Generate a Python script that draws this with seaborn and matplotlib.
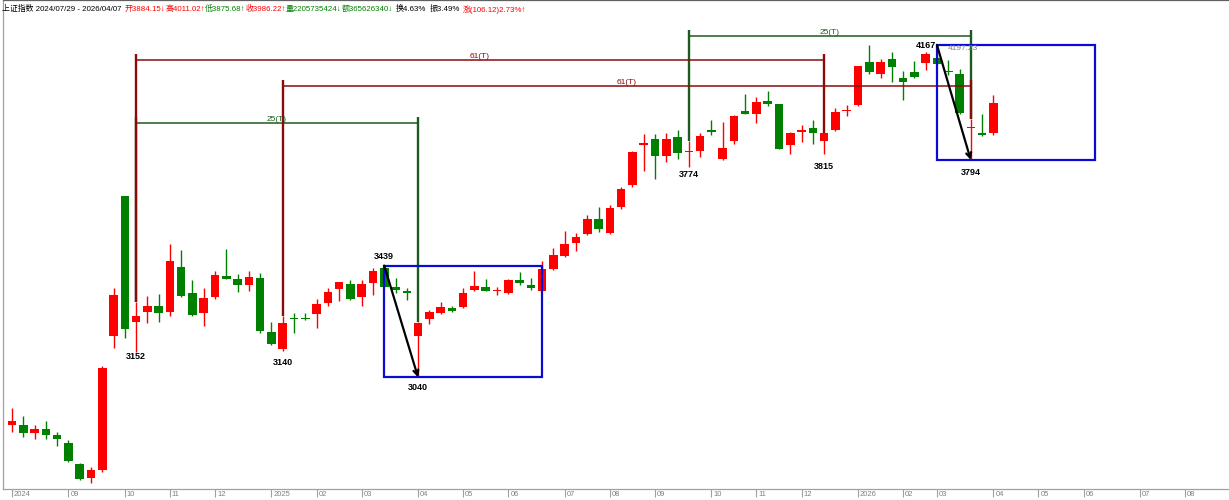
import matplotlib
matplotlib.use('Agg')
import matplotlib.pyplot as plt
import matplotlib.transforms as mtransforms
from matplotlib.patches import Rectangle
import numpy as np
import pandas as pd
import seaborn as sns

# weekly bars, 2024/07/29 - 2026/04/07
opens = [2890, 2890, 2863, 2876, 2856, 2829, 2757, 2710, 2737, 3194,
         3669, 3240, 3274, 3296, 3274, 3427, 3340, 3272, 3325, 3397,
         3385, 3366, 3391, 3206, 3148, 3254, 3253, 3267, 3306, 3352,
         3368, 3326, 3372, 3425, 3360, 3341, 3193, 3249, 3272, 3289,
         3292, 3349, 3360, 3345, 3338, 3383, 3366, 3347, 3419, 3465,
         3508, 3538, 3589, 3542, 3630, 3706, 3842, 3861, 3805, 3868,
         3817, 3822, 3889, 3793, 3857, 3959, 3947, 3992, 3980, 3842,
         3887, 3899, 3857, 3893, 3957, 3978, 4123, 4082, 4133, 4069,
         4091, 4120, 4139, 4090, 4082, 3899, 3878, 3884.15]
highs = [2948, 2921, 2890, 2904, 2866, 2839, 2760, 2747, 3091, 3355,
         3670, 3309, 3329, 3335, 3505, 3485, 3383, 3355, 3415, 3488,
         3403, 3415, 3408, 3241, 3261, 3272, 3270, 3317, 3357, 3376,
         3383, 3383, 3423, 3432, 3389, 3357, 3241, 3281, 3309, 3295,
         3355, 3414, 3385, 3360, 3386, 3409, 3389, 3449, 3491, 3550,
         3544, 3604, 3630, 3638, 3700, 3821, 3879, 3879, 3884, 3893,
         3857, 3882, 3927, 3921, 3943, 4015, 4004, 4026, 3982, 3887,
         3910, 3927, 3883, 3967, 3978, 4112, 4182, 4133, 4159, 4094,
         4129, 4159, 4182, 4131, 4099, 3929, 3946, 4011.02]
lows = [2866, 2849, 2842, 2842, 2819, 2764, 2703, 2693, 2730, 3153,
        3187, 3139, 3238, 3241, 3262, 3325, 3262, 3227, 3318, 3385,
        3343, 3346, 3204, 3163, 3141, 3202, 3247, 3219, 3296, 3312,
        3316, 3296, 3332, 3358, 3340, 3315, 3052, 3232, 3267, 3275,
        3287, 3347, 3345, 3332, 3336, 3366, 3349, 3345, 3417, 3462,
        3482, 3537, 3547, 3540, 3623, 3700, 3755, 3725, 3785, 3794,
        3768, 3802, 3876, 3792, 3845, 3946, 3916, 3975, 3827, 3811,
        3851, 3845, 3811, 3891, 3941, 3976, 4083, 4071, 4057, 3995,
        4071, 4097, 4116, 4080, 3948, 3791, 3872, 3875.68]
closes = [2904, 2863, 2876, 2856, 2842, 2768, 2706, 2737, 3084, 3332,
          3216, 3261, 3296, 3270, 3448, 3328, 3265, 3322, 3399, 3387,
          3365, 3394, 3210, 3166, 3238, 3250, 3250, 3300, 3341, 3375,
          3317, 3368, 3415, 3360, 3349, 3339, 3236, 3273, 3292, 3278,
          3338, 3364, 3347, 3347, 3383, 3374, 3357, 3419, 3468, 3505,
          3530, 3589, 3556, 3629, 3691, 3819, 3850, 3806, 3861, 3814,
          3820, 3874, 3887, 3831, 3942, 3947, 3987, 3981, 3828, 3882,
          3893, 3882, 3882, 3953, 3959, 4111, 4091, 4125, 4108, 4057,
          4072, 4151, 4117, 4089, 3950, 3901, 3876, 3986.22]

# month ticks (bar index) and labels, incl. empty future weeks
tick_pos = [0, 5, 10, 14, 18, 23, 27, 31, 36, 40, 44, 49, 53, 57, 62, 66,
            70, 75, 79, 82, 87, 91, 95, 100, 104]
tick_labels = ['2024', '09', '10', '11', '12', '2025', '02', '03', '04', '05',
               '06', '07', '08', '09', '10', '11', '12', '2026', '02', '03',
               '04', '05', '06', '07', '08']

# cycle count lines: start bar, end bar, level, colour, label
cycle_start = [11, 24, 11, 60]
cycle_end = [72, 85, 36, 85]
cycle_level = [4131, 4043, 3917, 4212]
cycle_text = ['61(T)', '61(T)', '25(T)', '25(T)']
cycle_kind = ['red', 'red', 'green', 'green']

# swing arrows (high bar -> low bar) and boxes 14 bars wide
swing_from = [33, 82]
swing_to = [36, 85]
box_bars = 14

# point labels: bar, text, at low/high, pixel offset
mark_bar = [11, 24, 36, 60, 72, 85, 33]
mark_text = ['3152', '3140', '3040', '3774', '3815', '3794', '3439']
mark_side = ['low', 'low', 'low', 'low', 'low', 'low', 'high']
mark_gap = [0, 7, 6, 3, 7.5, 8, 5]

# header line
head_text = ['上证指数 2024/07/29 - 2026/04/07', '开3884.15↓', '高4011.02↑', '低3875.68↑',
             '收3986.22↑', '量2205735424↓', '额365626340↓', '换4.63%', '振3.49%',
             '涨(106.12)2.73%↑']
head_col = ['black', 'red', 'red', 'green', 'red', 'green', 'green', 'black', 'black', 'red']
head_gap = [0, 3, 0, 0, 0, 0, 0, 3, 3, 3]

df = pd.DataFrame({'open': opens, 'high': highs, 'low': lows, 'close': closes})
df['idx'] = np.arange(len(df))
df['up'] = df['close'] >= df['open']

RED = '#ff0000'
GREEN = '#008000'
MAROON = '#8b0a0a'
DKGREEN = '#1d5a1d'
BLUE = '#0a0ad2'

sns.set_theme(style='white')
plt.rcParams['font.family'] = ['Liberation Sans', 'Noto Sans CJK SC', 'DejaVu Sans']
plt.rcParams['axes.unicode_minus'] = False

fig = plt.figure(figsize=(12.29, 5.0), dpi=100)
ax = fig.add_axes([3 / 1229, 11 / 500, 1226 / 1229, 489 / 500])
ax.set_xlim((3 - 12) / 11.28, (1229 - 12) / 11.28)
ax.set_ylim(2672.4, 4335)
px = 3.4  # price units per pixel

colors = np.where(df['up'], RED, GREEN)

# wicks then bodies
ax.vlines(df['idx'], df['low'], df['high'], colors=colors, lw=1.0, zorder=2)
bottoms = df[['open', 'close']].min(axis=1)
heights = (df['close'] - df['open']).abs().clip(lower=1.6 * px)
ax.bar(df['idx'], heights, bottom=bottoms, width=0.76, color=colors,
       linewidth=0, zorder=3)

# cycle lines
for k in ['green', 'red']:
    for s, e, lv, t, kind in zip(cycle_start, cycle_end, cycle_level, cycle_text, cycle_kind):
        if kind != k:
            continue
        c = MAROON if kind == 'red' else DKGREEN
        ax.hlines(lv, s, e, colors=c, lw=1.1, zorder=4)
        ax.vlines([s, e], [df['high'][s], df['high'][e]], lv + 6 * px,
                  colors=c, lw=1.7, zorder=4)
        ax.annotate(t, xy=((s + e) / 2, lv), xytext=(0, 2.6), textcoords='offset points',
                    ha='center', va='center', fontsize=6, color=c, zorder=5)

# boxes and arrows
for a, b in zip(swing_from, swing_to):
    top = df['high'][a]
    bot = df['low'][b]
    ax.add_patch(Rectangle((a, bot), box_bars, top - bot, fill=False,
                           edgecolor=BLUE, lw=1.6, zorder=6))
    ax.annotate('', xy=(b, bot), xytext=(a, top),
                arrowprops=dict(arrowstyle='->', color='black', lw=1.6,
                                mutation_scale=9, shrinkA=0, shrinkB=0), zorder=7)

# point labels
for i, t, side, g in zip(mark_bar, mark_text, mark_side, mark_gap):
    if side == 'low':
        ax.annotate(t, xy=(i, df['low'][i]), xytext=(0, -g * 0.72), textcoords='offset points',
                    ha='center', va='top', fontsize=6.5, fontweight='bold', color='black', zorder=8)
    else:
        ax.annotate(t, xy=(i, df['high'][i]), xytext=(0, g * 0.72), textcoords='offset points',
                    ha='center', va='bottom', fontsize=6.5, fontweight='bold', color='black', zorder=8)

ax.annotate('4167', xy=(82, df['high'][82]), xytext=(-1 * 0.72, -1 * 0.72),
            textcoords='offset points', ha='right', va='center', fontsize=6.5,
            fontweight='bold', color='black', zorder=8)
ax.annotate('4197.23', xy=(82, df['high'][82]), xytext=(11 * 0.72, -3.3 * 0.72),
            textcoords='offset points', ha='left', va='center', fontsize=6,
            color='#808080', zorder=8)

# axes frame and month ticks
ax.grid(False)
ax.set_yticks([])
ax.set_xticks(tick_pos)
ax.set_xticklabels(tick_labels, fontsize=5.5, color='#808080', ha='left')
ax.tick_params(axis='x', bottom=True, direction='out', length=6, width=0.8,
               color='#a0a0a0', pad=-4.8)
shift = mtransforms.ScaledTranslation(2 / 100, 0, fig.dpi_scale_trans)
for lab in ax.get_xticklabels():
    lab.set_transform(lab.get_transform() + shift)
ax.spines['right'].set_visible(False)
ax.spines['top'].set_color('#606060')
ax.spines['left'].set_color('#a0a0a0')
ax.spines['bottom'].set_color('#a0a0a0')
for sp in ['top', 'left', 'bottom']:
    ax.spines[sp].set_linewidth(0.9)

# header: pieces laid out one after another
renderer = fig.canvas.get_renderer()
x = 2.0
for t, c, g in zip(head_text, head_col, head_gap):
    x += g
    col = {'red': RED, 'green': GREEN}.get(c, c)
    txt = fig.text(x / 1229, 1 - 9 / 500, t, ha='left', va='center', fontsize=5.7, color=col)
    x += txt.get_window_extent(renderer).width

fig.savefig('out.png', dpi=100)
